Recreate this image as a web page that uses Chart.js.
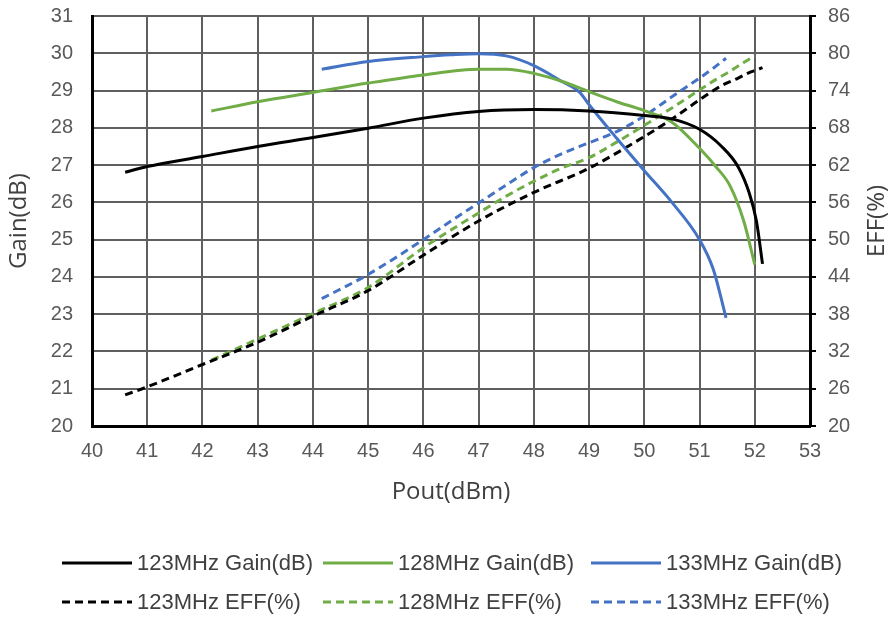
<!DOCTYPE html>
<html>
<head>
<meta charset="utf-8">
<script src="https://cdn.jsdelivr.net/npm/chart.js@4.4.1/dist/chart.umd.min.js"></script>
<style>
  html, body { margin: 0; padding: 0; background: #fff; }
  #wrap { position: relative; width: 896px; height: 618px; }
  #myChart { position: absolute; left: 0; top: 0; }
  #legend { position: absolute; left: 0; top: 0; width: 896px; height: 618px; pointer-events: none;
            font: 22px "Liberation Sans", Arial, sans-serif; color: #404040; }
  .item { position: absolute; height: 30px; display: flex; align-items: center; white-space: nowrap; }
  .item svg { margin-right: 5px; }
</style>
</head>
<body>
<div id="wrap">
  <canvas id="myChart" width="896" height="520"></canvas>
  <div id="legend"></div>
</div>
<script>
// data
const pout123 = [40.6, 41, 42, 43, 44, 45, 46, 47, 48, 49, 50, 50.5, 51, 51.4, 51.7, 51.9, 52.03, 52.14];
const gain123 = [26.81, 26.96, 27.23, 27.5, 27.74, 27.99, 28.26, 28.44, 28.49, 28.45, 28.33, 28.24, 27.96, 27.5, 26.95, 26.25, 25.5, 24.35];
const eff123  = [25.0, 26.3, 29.9, 33.5, 37.7, 41.8, 47.5, 53.0, 57.6, 61.5, 66.6, 69.4, 72.5, 74.8, 76.0, 76.9, 77.3, 77.7];

const pout128 = [42.16, 43, 44, 45, 46, 47, 47.5, 48, 48.5, 49, 49.5, 50, 50.5, 51, 51.3, 51.55, 51.8, 52.0];
const gain128 = [28.45, 28.7, 28.95, 29.2, 29.42, 29.57, 29.57, 29.46, 29.25, 28.97, 28.7, 28.46, 28.15, 27.45, 26.95, 26.45, 25.5, 24.33];
const eff128  = [30.6, 34.0, 38.1, 42.3, 48.7, 54.3, 57.0, 59.4, 61.5, 63.2, 65.7, 68.4, 71.2, 74.1, 75.8, 77.1, 78.5, 79.6];

const pout133 = [44.16, 45, 46, 46.5, 47, 47.5, 48, 48.5, 48.83, 49, 49.5, 50, 50.5, 51, 51.25, 51.48];
const gain133 = [29.57, 29.78, 29.91, 29.96, 29.99, 29.93, 29.67, 29.25, 28.95, 28.62, 27.72, 26.85, 26.0, 25.0, 24.2, 22.9];
const eff133  = [40.5, 44.4, 50.0, 53.0, 55.9, 58.8, 61.6, 63.8, 65.0, 65.6, 67.4, 69.9, 73.0, 76.0, 77.6, 79.2];

const xTicks = [40, 53, 1];
const gainTicks = [20, 31, 1];
const effTicks = [20, 86, 6];

const black = '#000000';
const green = '#70AD47';
const blue = '#4472C4';
const gridColor = '#5f5f5f';
const textColor = '#595959';
const FONT = '"Liberation Sans", Arial, sans-serif';
const TITLE_FONT = '"Open Sans", "Liberation Sans", sans-serif';

const pts = (xs, ys) => xs.map((x, i) => ({ x: x, y: ys[i] }));

function series(label, xs, ys, color, axis, dashed) {
    return {
        label: label,
        data: pts(xs, ys),
        yAxisID: axis,
        borderColor: color,
        backgroundColor: color,
        borderWidth: 3,
        borderDash: dashed ? [8, 5] : [],
        pointRadius: 0,
        cubicInterpolationMode: 'monotone',
        fill: false
    };
}

// right axis title reads bottom-to-top like the left one
const rightTitle = {
    id: 'rightTitle',
    afterDraw(chart) {
        const { ctx, chartArea } = chart;
        ctx.save();
        ctx.translate(chart.width - 19, (chartArea.top + chartArea.bottom) / 2);
        ctx.rotate(-Math.PI / 2);
        ctx.font = '24px ' + TITLE_FONT;
        ctx.fillStyle = '#404040';
        ctx.textAlign = 'center';
        ctx.textBaseline = 'middle';
        ctx.fillText('EFF(%)', 0, 0);
        ctx.restore();
    }
};

const chart = new Chart(document.getElementById('myChart'), {
    type: 'line',
    data: {
        datasets: [
            series('123MHz Gain(dB)', pout123, gain123, black, 'y', false),
            series('128MHz Gain(dB)', pout128, gain128, green, 'y', false),
            series('133MHz Gain(dB)', pout133, gain133, blue, 'y', false),
            series('123MHz EFF(%)', pout123, eff123, black, 'y1', true),
            series('128MHz EFF(%)', pout128, eff128, green, 'y1', true),
            series('133MHz EFF(%)', pout133, eff133, blue, 'y1', true)
        ]
    },
    options: {
        responsive: false,
        animation: false,
        layout: { padding: { left: 0, right: 0, top: 16, bottom: 0 } },
        plugins: { legend: { display: false }, tooltip: { enabled: false } },
        scales: {
            x: {
                type: 'linear',
                min: xTicks[0], max: xTicks[1],
                ticks: { stepSize: xTicks[2], color: textColor, font: { size: 20, family: FONT }, padding: 13 },
                grid: { color: gridColor, lineWidth: 2, drawTicks: false },
                border: { color: black, width: 3 },
                title: { display: true, text: 'Pout(dBm)', color: '#404040', font: { size: 24, family: TITLE_FONT }, padding: { top: 0, bottom: 13 } },
                afterFit(s) { s.height = 94; }
            },
            y: {
                position: 'left',
                min: gainTicks[0], max: gainTicks[1],
                ticks: { stepSize: gainTicks[2], color: textColor, font: { size: 20, family: FONT }, padding: 19 },
                grid: { color: gridColor, lineWidth: 2, drawTicks: false },
                border: { color: black, width: 3 },
                title: { display: true, text: 'Gain(dB)', color: '#404040', font: { size: 24, family: TITLE_FONT }, padding: { top: 5, bottom: 0 } },
                afterFit(s) { s.width = 92; s.paddingTop = 0; s.paddingBottom = 0; }
            },
            y1: {
                position: 'right',
                min: effTicks[0], max: effTicks[1],
                ticks: { stepSize: effTicks[2], color: textColor, font: { size: 20, family: FONT }, padding: 12 },
                grid: { drawOnChartArea: false, color: black, lineWidth: 2, tickLength: 6 },
                border: { color: black, width: 3 },
                afterFit(s) { s.width = 86; s.paddingTop = 0; s.paddingBottom = 0; }
            }
        }
    },
    plugins: [rightTitle]
});

// legend below the chart, laid out in three columns like the original
const cols = [62, 323, 591];
const rows = [563, 602];
const legend = document.getElementById('legend');
chart.data.datasets.forEach((ds, i) => {
    const item = document.createElement('div');
    item.className = 'item';
    item.style.left = cols[i % 3] + 'px';
    item.style.top = (rows[Math.floor(i / 3)] - 15) + 'px';
    const dash = ds.borderDash.length ? ds.borderDash.join(' ') : 'none';
    item.innerHTML = '<svg width="70" height="6"><line x1="0" y1="3" x2="70" y2="3" stroke="' + ds.borderColor +
        '" stroke-width="3" stroke-dasharray="' + dash + '"/></svg><span>' + ds.label + '</span>';
    legend.appendChild(item);
});
</script>
</body>
</html>
